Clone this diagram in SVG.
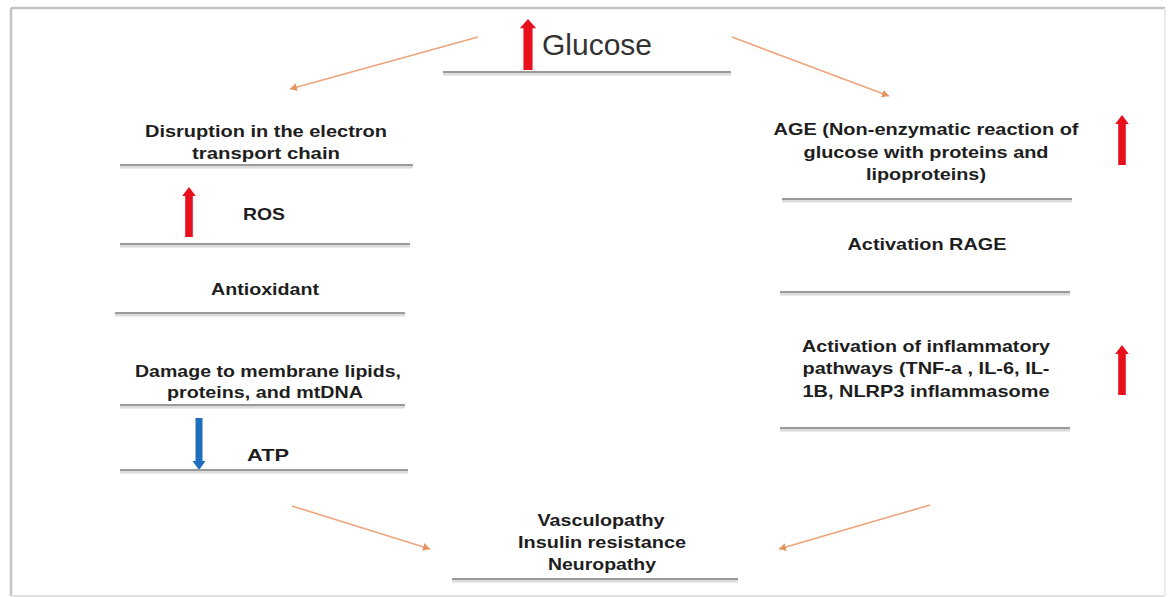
<svg xmlns="http://www.w3.org/2000/svg" width="1174" height="597" viewBox="0 0 1174 597">
  <style>
    .t { font-family: "Liberation Sans", Arial, sans-serif; font-weight: bold; font-size: 16.5px; fill: #1e1e1e; text-anchor: middle; }
    .g { font-family: "Liberation Sans", Arial, sans-serif; font-size: 30px; fill: #333; }
    .ul { stroke: #9a9a9a; stroke-width: 2; fill: none; }
    .ulh { stroke: #dcdcdc; stroke-width: 4; fill: none; }
    .con { stroke: #eca57c; stroke-width: 1.6; fill: none; marker-end: url(#oh); }
    .red { fill: #e8101c; }
    .blue { fill: #1f6fbe; }
  </style>
  <defs>
    <marker id="oh" markerUnits="userSpaceOnUse" markerWidth="10" markerHeight="10" refX="7" refY="4" orient="auto">
      <path d="M0,0 L7,4 L0,8 z" fill="#e3955f"/>
    </marker>
    <path id="up" d="M-3.8,50 L-3.8,9 L-6.8,9 L0,0 L6.8,9 L3.8,9 L3.8,50 z"/>
    <path id="down" d="M-3.5,0 L-3.5,43 L-6.5,43 L0,52 L6.5,43 L3.5,43 L3.5,0 z"/>
  </defs>

  <rect width="1174" height="597" fill="#ffffff"/>
  <g id="frame">
    <line x1="11" y1="8" x2="1165" y2="8" stroke="#c4c4c4" stroke-width="2.5"/>
    <line x1="11" y1="8" x2="11" y2="596" stroke="#c4c4c4" stroke-width="2.5"/>
    <line x1="1165" y1="8" x2="1165" y2="596" stroke="#ececec" stroke-width="2"/>
    <line x1="11" y1="596" x2="1165" y2="596" stroke="#e2e2e2" stroke-width="2"/>
  </g>

  <g id="connectors">
    <line class="con" x1="478" y1="37" x2="290" y2="89"/>
    <line class="con" x1="732" y1="37" x2="889" y2="96"/>
    <line class="con" x1="292" y1="506" x2="430" y2="549"/>
    <line class="con" x1="930" y1="505" x2="779" y2="549"/>
  </g>

  <g id="glucose">
    <use href="#up" class="red" transform="translate(528,19) scale(1.2,1.02)"/>
    <text class="g" x="542" y="55">Glucose</text>
    <line class="ulh" x1="443" y1="73.5" x2="731" y2="73.5"/>
    <line class="ul" x1="443" y1="72" x2="731" y2="72"/>
  </g>

  <g id="etc">
    <text class="t" x="266" y="137" textLength="242" lengthAdjust="spacingAndGlyphs">Disruption in the electron</text>
    <text class="t" x="266" y="159" textLength="148" lengthAdjust="spacingAndGlyphs">transport chain</text>
    <line class="ulh" x1="120" y1="166.5" x2="413" y2="166.5"/>
    <line class="ul" x1="120" y1="165" x2="413" y2="165"/>
  </g>

  <g id="ros">
    <use href="#up" class="red" transform="translate(189,187)"/>
    <text class="t" x="264" y="220" textLength="42" lengthAdjust="spacingAndGlyphs">ROS</text>
    <line class="ulh" x1="120" y1="245.5" x2="410" y2="245.5"/>
    <line class="ul" x1="120" y1="244" x2="410" y2="244"/>
  </g>

  <g id="antioxidant">
    <text class="t" x="265" y="295" textLength="108" lengthAdjust="spacingAndGlyphs">Antioxidant</text>
    <line class="ulh" x1="115" y1="314.5" x2="405" y2="314.5"/>
    <line class="ul" x1="115" y1="313" x2="405" y2="313"/>
  </g>

  <g id="damage">
    <text class="t" x="268" y="377" textLength="266" lengthAdjust="spacingAndGlyphs">Damage to membrane lipids,</text>
    <text class="t" x="265" y="398" textLength="196" lengthAdjust="spacingAndGlyphs">proteins, and mtDNA</text>
    <line class="ulh" x1="120" y1="406.5" x2="405" y2="406.5"/>
    <line class="ul" x1="120" y1="405" x2="405" y2="405"/>
  </g>

  <g id="atp">
    <use href="#down" class="blue" transform="translate(199,418)"/>
    <text class="t" x="268" y="461" textLength="42" lengthAdjust="spacingAndGlyphs">ATP</text>
    <line class="ulh" x1="120" y1="471.5" x2="408" y2="471.5"/>
    <line class="ul" x1="120" y1="470" x2="408" y2="470"/>
  </g>

  <g id="age">
    <text class="t" x="926" y="135" textLength="305" lengthAdjust="spacingAndGlyphs">AGE (Non-enzymatic reaction of</text>
    <text class="t" x="926" y="158" textLength="245" lengthAdjust="spacingAndGlyphs">glucose with proteins and</text>
    <text class="t" x="926" y="180" textLength="120" lengthAdjust="spacingAndGlyphs">lipoproteins)</text>
    <use href="#up" class="red" transform="translate(1122,115)"/>
    <line class="ulh" x1="782" y1="200.5" x2="1072" y2="200.5"/>
    <line class="ul" x1="782" y1="199" x2="1072" y2="199"/>
  </g>

  <g id="rage">
    <text class="t" x="927" y="250" textLength="159" lengthAdjust="spacingAndGlyphs">Activation RAGE</text>
    <line class="ulh" x1="780" y1="293.5" x2="1070" y2="293.5"/>
    <line class="ul" x1="780" y1="292" x2="1070" y2="292"/>
  </g>

  <g id="inflammatory">
    <text class="t" x="926" y="352" textLength="248" lengthAdjust="spacingAndGlyphs">Activation of inflammatory</text>
    <text class="t" x="926" y="374" textLength="247" lengthAdjust="spacingAndGlyphs">pathways (TNF-a , IL-6, IL-</text>
    <text class="t" x="926" y="397" textLength="247" lengthAdjust="spacingAndGlyphs">1B, NLRP3 inflammasome</text>
    <use href="#up" class="red" transform="translate(1122,345)"/>
    <line class="ulh" x1="780" y1="429.5" x2="1070" y2="429.5"/>
    <line class="ul" x1="780" y1="428" x2="1070" y2="428"/>
  </g>

  <g id="outcomes">
    <text class="t" x="601" y="526" textLength="127" lengthAdjust="spacingAndGlyphs">Vasculopathy</text>
    <text class="t" x="602" y="548" textLength="168" lengthAdjust="spacingAndGlyphs">Insulin resistance</text>
    <text class="t" x="602" y="570" textLength="108" lengthAdjust="spacingAndGlyphs">Neuropathy</text>
    <line class="ulh" x1="452" y1="580.5" x2="738" y2="580.5"/>
    <line class="ul" x1="452" y1="579" x2="738" y2="579"/>
  </g>
</svg>
